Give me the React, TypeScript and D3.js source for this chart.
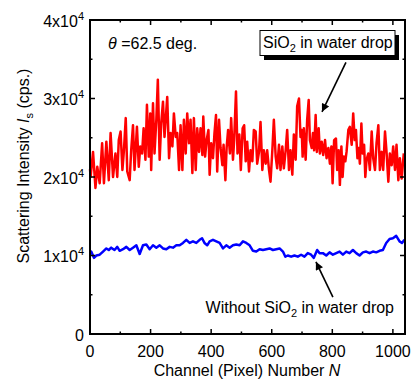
import React from 'react';
import * as d3 from 'd3';

// channel numbers and counts (cps.)
const redChannel = [
  0, 2, 10, 18, 24, 32, 40, 46, 54, 62, 68, 76, 84, 90, 95, 101, 107, 112, 118, 123,
  131, 136, 142, 147, 155, 161, 166, 172, 177, 183, 188, 194, 199, 202, 208, 213, 219, 224, 230, 235,
  241, 246, 252, 255, 261, 266, 272, 277, 283, 288, 294, 299, 305, 310, 316, 321, 327, 332, 338, 343,
  349, 354, 360, 365, 371, 374, 380, 385, 391, 395, 400, 406, 411, 416, 420, 426, 431, 437, 441, 447,
  451, 456, 462, 466, 472, 476, 482, 487, 493, 498, 504, 509, 514, 519, 525, 530, 536, 541, 547, 552,
  558, 563, 569, 574, 580, 585, 591, 596, 602, 607, 613, 618, 624, 629, 635, 640, 646, 651, 657, 662,
  668, 673, 679, 684, 690, 695,
  699, 702, 706, 712, 717, 722, 726, 732, 736, 740, 745, 749, 755, 759, 765, 770, 776, 781, 787, 792,
  797, 801, 806, 812, 816, 821, 825, 830, 834, 838, 843, 847, 853, 858, 864, 869, 874, 878, 883, 887,
  891, 896, 900, 905, 909, 913, 919, 924, 930, 935, 941, 946, 952, 957, 963, 968, 974, 979, 985, 990,
  996, 1001, 1007, 1012, 1018, 1023, 1029, 1036,
];
const redCounts = [
  21000, 20000, 23200, 18600, 21300, 19200, 24300, 19200, 24500, 19600, 25600, 20000, 23000, 20000, 24700, 25800, 20900, 23400, 27500, 20700,
  19600, 23400, 26600, 20900, 26400, 21300, 23900, 23000, 26200, 22200, 29200, 22600, 28100, 20900, 29400, 23000, 27300, 32400, 22200, 26800,
  29600, 25100, 28500, 30200, 22400, 25600, 23900, 28100, 25100, 25600, 20900, 26600, 20900, 27300, 23000, 28100, 24300, 27300, 20500, 27500,
  20900, 26200, 23200, 26200, 22800, 27700, 22600, 24700, 26000, 20300, 24300, 22400, 25600, 27900, 20700, 27300, 23700, 21500, 24100, 19600,
  23700, 26000, 23000, 27500, 22200, 24700, 30900, 23000, 25400, 20900, 26200, 26600, 22000, 24500, 20700, 23400, 22000, 26000, 25800, 21700,
  23200, 27000, 20900, 23400, 21700, 23400, 20900, 19400, 23400, 27300, 22600, 21100, 24100, 20900, 23900, 21100, 23400, 26000, 20900, 23400,
  20300, 25400, 22200, 29000, 30000, 25100,
  26000, 22600, 26200, 22200, 27300, 29800, 24700, 23700, 25600, 23400, 27900, 23200, 26200, 23000, 24500, 22800, 24700, 22400, 23700, 21700,
  23900, 19200, 24700, 24900, 20900, 23400, 19000, 23900, 20000, 22600, 22000, 23200, 26000, 26400, 24100, 28100, 24700, 26000, 22400, 23700,
  21700, 26800, 23000, 24100, 20000, 22200, 23000, 20900, 25800, 22400, 20900, 24300, 26600, 20900, 23200, 20900, 25800, 23200, 19400, 23000,
  21500, 23900, 20900, 24100, 19600, 22400, 19800, 23000,
];
const blueChannel = [
  0, 4, 13, 21, 32, 43, 54, 62, 70, 81, 90, 98, 109, 120, 131, 142, 153, 164, 175, 186,
  197, 208, 219, 230, 241, 252, 263, 274, 285, 296, 307, 318, 329, 340, 351, 362, 370, 378, 387, 395,
  406, 417, 428, 439, 450, 461, 472, 483, 494, 505, 516, 527, 538, 549, 560, 571, 582, 593, 604, 615,
  626, 637, 645, 653, 664, 675, 686, 697, 708, 719, 730, 739, 750, 758, 769, 780, 791, 802, 813, 824,
  835, 846, 857, 868, 879, 890, 901, 912, 923, 934, 945, 956, 967, 978, 989, 1000, 1011, 1022, 1030, 1038,
];
const blueCounts = [
  10400, 10500, 9700, 10000, 10100, 10500, 10900, 10700, 11000, 10700, 11100, 10600, 10800, 11100, 10700, 11000, 11300, 10200, 11300, 11400,
  10800, 11300, 11000, 11300, 10900, 10800, 11100, 11000, 11300, 11300, 11600, 12000, 11600, 11800, 11600, 12000, 12200, 11600, 11300, 11800,
  12000, 11800, 11600, 10900, 11300, 11000, 11300, 11400, 11300, 11800, 11600, 11300, 10600, 10500, 10800, 10700, 10800, 10900, 10700, 10800,
  10900, 10500, 9850, 10000, 9850, 10000, 9850, 10100, 9850, 10300, 10100, 9700, 10700, 10300, 10300, 10000, 10400, 10100, 10300, 10500,
  10100, 10500, 10300, 10700, 10300, 10000, 10400, 10500, 10300, 10500, 10400, 10600, 10700, 11600, 12100, 12200, 12500, 11800, 11600, 12000,
];

const xTicks = [0, 200, 400, 600, 800, 1000];
const xMinorTicks = [100, 300, 500, 700, 900];
const yTicks = [0, 10000, 20000, 30000, 40000];
const yMinorTicks = [5000, 15000, 25000, 35000];

const W = 411, H = 383;
const margin = { top: 20, right: 6, bottom: 49, left: 90 };
const font = '"Liberation Sans", Arial, sans-serif';

export default function App() {
  const x = d3.scaleLinear().domain([0, 1040]).range([margin.left, W - margin.right]);
  const y = d3.scaleLinear().domain([0, 40000]).range([H - margin.bottom, margin.top]);
  const x0 = margin.left, x1 = W - margin.right, y0 = H - margin.bottom, y1 = margin.top;

  const line = d3.line<[number, number]>().x(d => x(d[0])).y(d => y(d[1]));
  const red = redChannel.map((c, i) => [c, redCounts[i]] as [number, number]);
  const blue = blueChannel.map((c, i) => [c, blueCounts[i]] as [number, number]);

  const major = 5, minor = 2.5;

  return (
    <svg width={W} height={H} style={{ display: 'block', fontFamily: font }}>
      <style>{'body{margin:0}'}</style>
      <defs>
        <marker id="arr" viewBox="0 0 10 10" refX="10" refY="5" markerWidth="9" markerHeight="8" markerUnits="userSpaceOnUse" orient="auto">
          <path d="M0,0 L10,5 L0,10 z" fill="#000" />
        </marker>
      </defs>

      <path d={line(red) || ''} fill="none" stroke="#ff0000" strokeWidth={2.5} strokeLinejoin="round" />
      <path d={line(blue) || ''} fill="none" stroke="#0000ff" strokeWidth={2.5} strokeLinejoin="round" />

      {/* ticks, all four sides, pointing in */}
      <g stroke="#000" strokeWidth={1.5}>
        {xTicks.map(t => (
          <g key={'xt' + t}>
            <line x1={x(t)} x2={x(t)} y1={y0} y2={y0 - major} />
            <line x1={x(t)} x2={x(t)} y1={y1} y2={y1 + major} />
          </g>
        ))}
        {xMinorTicks.map(t => (
          <g key={'xm' + t}>
            <line x1={x(t)} x2={x(t)} y1={y0} y2={y0 - minor} />
            <line x1={x(t)} x2={x(t)} y1={y1} y2={y1 + minor} />
          </g>
        ))}
        {yTicks.map(t => (
          <g key={'yt' + t}>
            <line x1={x0} x2={x0 + major} y1={y(t)} y2={y(t)} />
            <line x1={x1} x2={x1 - major} y1={y(t)} y2={y(t)} />
          </g>
        ))}
        {yMinorTicks.map(t => (
          <g key={'ym' + t}>
            <line x1={x0} x2={x0 + minor} y1={y(t)} y2={y(t)} />
            <line x1={x1} x2={x1 - minor} y1={y(t)} y2={y(t)} />
          </g>
        ))}
      </g>
      <rect x={x0} y={y1} width={x1 - x0} height={y0 - y1} fill="none" stroke="#000" strokeWidth={2} />

      {/* tick labels */}
      <g fontSize={16} fill="#000">
        {xTicks.map(t => (
          <text key={'xl' + t} x={x(t)} y={y0 + 23} textAnchor="middle">{t}</text>
        ))}
        {yTicks.map(t => (
          <text key={'yl' + t} x={x0 - 6} y={y(t) + 6.5} textAnchor="end">
            {t === 0 ? '0' : <>
              <tspan>{`${t / 10000}x10`}</tspan>
              <tspan fontSize={11} dy={-7}>4</tspan>
            </>}
          </text>
        ))}
      </g>

      {/* axis titles */}
      <text x={(x0 + x1) / 2 - 0.5} y={376} textAnchor="middle" fontSize={16}>
        Channel (Pixel) Number <tspan fontStyle="italic">N</tspan>
      </text>
      <text transform={`translate(29,166) rotate(-90)`} textAnchor="middle" fontSize={16}>
        Scattering Intensity <tspan fontStyle="italic">I</tspan>
        <tspan fontSize={11} dy={4}>s</tspan>
        <tspan dy={-4}> (cps.)</tspan>
      </text>

      {/* annotations */}
      <text x={108} y={49} fontSize={16}>
        <tspan fontStyle="italic">θ</tspan> =62.5 deg.
      </text>

      <rect x={264} y={35} width={135} height={25} fill="#000" />
      <rect x={260} y={30.5} width={135} height={25} fill="#fff" stroke="#000" strokeWidth={1} />
      <text x={263} y={48} fontSize={16}>
        SiO<tspan fontSize={11} dy={4}>2</tspan><tspan dy={-4}> in water drop</tspan>
      </text>
      <line x1={x(845)} y1={y(34600)} x2={x(766)} y2={y(28300)} stroke="#000" strokeWidth={1.6} markerEnd="url(#arr)" />

      <text x={394} y={313} fontSize={16} textAnchor="end">
        Without SiO<tspan fontSize={11} dy={4}>2</tspan><tspan dy={-4}> in water drop</tspan>
      </text>
      <line x1={x(802)} y1={y(4700)} x2={x(746)} y2={y(9200)} stroke="#000" strokeWidth={1.6} markerEnd="url(#arr)" />
    </svg>
  );
}
